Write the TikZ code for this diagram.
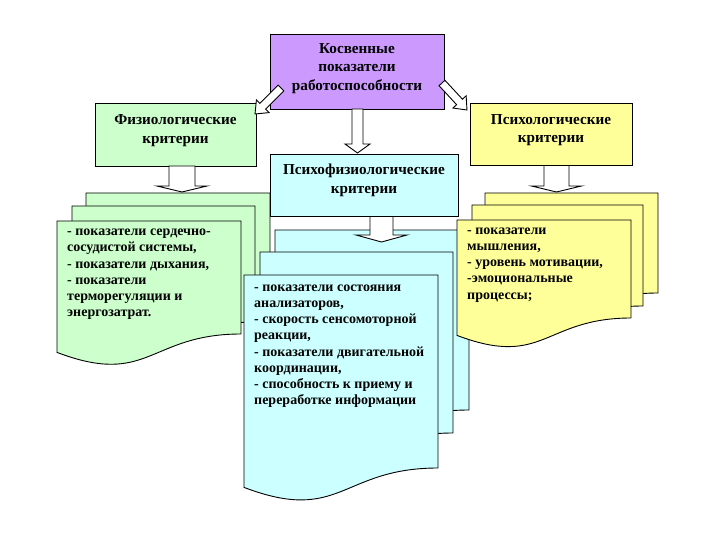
\documentclass[tikz,border=0pt]{standalone}
\usepackage{fontspec}
\setmainfont{Liberation Serif}
\usetikzlibrary{calc}
\definecolor{cPurple}{RGB}{204,153,255}
\definecolor{cGreen}{RGB}{204,255,204}
\definecolor{cCyan}{RGB}{204,255,255}
\definecolor{cYellow}{RGB}{255,255,153}
\newcommand\blockarrow[5]{%
  \coordinate (bahead) at ($(#2)!#5!(#1)$);
  \draw[blockarr] ($(#1)!#3!90:(#2)$) -- ($(bahead)!#3!-90:(#1)$) -- ($(bahead)!#4!-90:(#1)$) -- (#2) -- ($(bahead)!#4!90:(#1)$) -- ($(bahead)!#3!90:(#1)$) -- ($(#1)!#3!-90:(#2)$) -- cycle;}
% document shape: #1 L, #2 T, #3 R, #4 yR, #5 fill
\newcommand\docpage[5]{%
  \pgfmathsetmacro\dW{#3-#1}%
  \pgfmathsetmacro\dM{(#1+#3)/2}%
  \pgfmathsetmacro\dC{#4+0.29*\dW}%
  \pgfmathsetmacro\dL{#4+0.1*\dW}%
  \draw[docline, fill=#5] (#1,#2) -- (#3,#2) -- (#3,#4) .. controls (\dM,#4) and (\dM,\dC) .. (#1,\dL) -- cycle;}
\begin{document}
\begin{tikzpicture}[x=1pt,y=-1pt,
  box/.style={draw, line width=0.9pt, inner sep=0pt},
  docline/.style={draw, line width=0.9pt},
  blockarr/.style={draw, fill=white, line width=0.9pt, line join=miter},
  title/.style={font=\bfseries\fontsize{15.2}{18.6}\selectfont, align=center, inner sep=0pt},
  doctext/.style={font=\bfseries\fontsize{14}{16.2}\selectfont, align=left, anchor=north west, inner sep=0pt}]
\useasboundingbox[fill=white] (0,0) rectangle (720,540);

% ---- document stacks ----
\docpage{86}{193}{270}{309}{cGreen}
\docpage{72}{206}{255}{322}{cGreen}
\docpage{57}{221}{241}{334}{cGreen}
\docpage{275}{230}{469}{410}{cCyan}
\docpage{260}{252}{453}{433}{cCyan}
\docpage{244}{275}{438}{468}{cCyan}
\docpage{485}{193}{658}{293}{cYellow}
\docpage{472}{205}{643}{306}{cYellow}
\docpage{457}{220}{631}{318}{cYellow}

\node[doctext] (gtext) at (67,229) {- показатели сердечно-\\сосудистой системы,\\- показатели дыхания,\\- показатели\\терморегуляции и\\энергозатрат.};
\node[doctext] (ctext) at (254,284.5) {- показатели состояния\\анализаторов,\\- скорость сенсомоторной\\реакции,\\- показатели двигательной\\координации,\\- способность к приему и\\переработке информации};
\node[doctext] (ytext) at (467,227.5) {- показатели\\мышления,\\- уровень мотивации,\\-эмоциональные\\процессы;};

% ---- boxes ----
\node[box, fill=cPurple, minimum width=174pt, minimum height=75pt] (top) at (357,71.5) {};
\node[title] (toptext) at (357,68.5) {Косвенные\\показатели\\работоспособности};
\node[box, fill=cGreen, minimum width=161pt, minimum height=63pt] (phys) at (175.5,134.5) {};
\node[title] (phystext) at (175.5,130.5) {Физиологические\\критерии};
\node[box, fill=cCyan, minimum width=188pt, minimum height=62pt] (psyphys) at (364,185) {};
\node[title] (psyphystext) at (364,180.5) {Психофизиологические\\критерии};
\node[box, fill=cYellow, minimum width=162pt, minimum height=62pt] (psy) at (551,134) {};
\node[title] (psytext) at (551,130) {Психологические\\критерии};

% ---- arrows ----
\coordinate (a1t) at (281,88);   \coordinate (a1h) at (255,114);
\coordinate (a2t) at (442,83);   \coordinate (a2h) at (467,110);
\coordinate (a3t) at (357.5,109); \coordinate (a3h) at (357.5,153);
\coordinate (a4t) at (182,166);  \coordinate (a4h) at (182,192);
\coordinate (a5t) at (381.5,216.5); \coordinate (a5h) at (381.5,242);
\coordinate (a6t) at (556.5,165.5); \coordinate (a6h) at (556.5,192);
\blockarrow{a1t}{a1h}{4pt}{9pt}{11pt}
\blockarrow{a2t}{a2h}{4pt}{9pt}{11pt}
\blockarrow{a3t}{a3h}{5.5pt}{12.5pt}{9pt}
\blockarrow{a4t}{a4h}{13pt}{25pt}{6pt}
\blockarrow{a5t}{a5h}{11.5pt}{25.5pt}{7pt}
\blockarrow{a6t}{a6h}{12.5pt}{25pt}{6pt}
\end{tikzpicture}
\end{document}
